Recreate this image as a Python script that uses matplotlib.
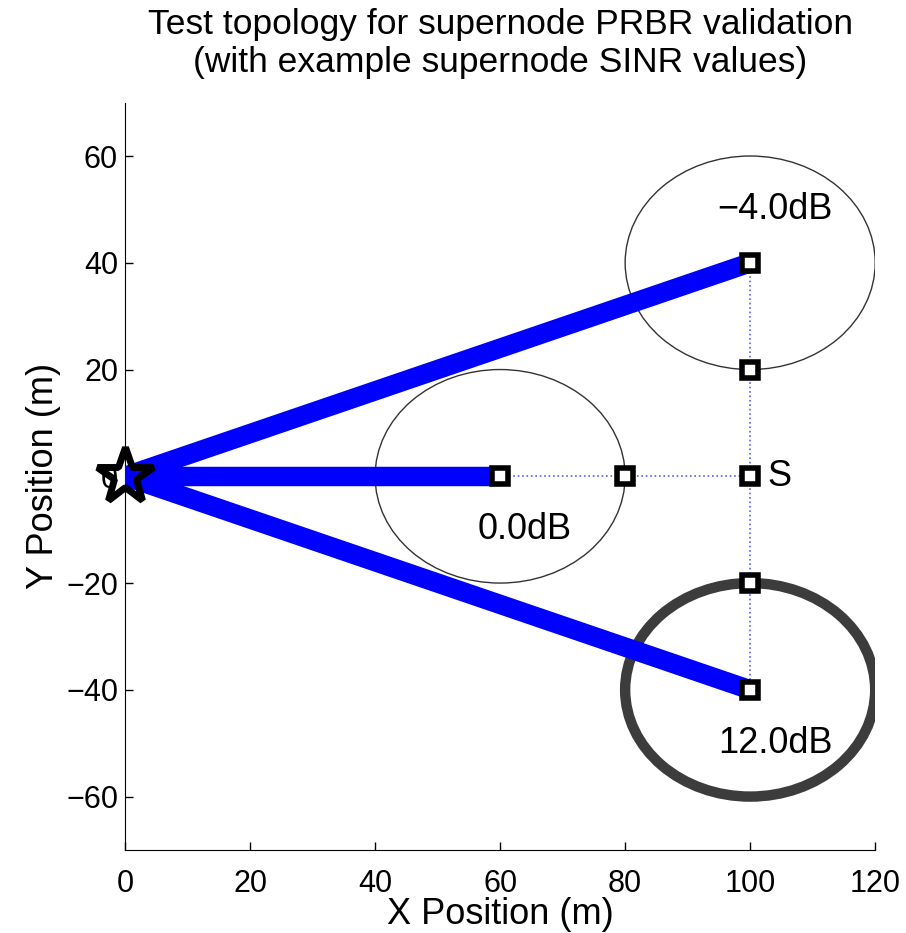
import numpy as np
import matplotlib.pyplot as plt
from matplotlib.patches import Ellipse

plt.rcParams['font.family'] = ['Liberation Sans', 'DejaVu Sans']
plt.rcParams['font.size'] = 22

# node positions (m)
node_x = [60, 80, 100, 100, 100, 100, 100]
node_y = [0, 0, 0, 20, 40, -20, -40]

# base station
bs_x, bs_y = 0, 0

# links from base station to supernodes
link_x = [100, 60, 100]
link_y = [40, 0, -40]

# dotted chains
chain_h_x = [60, 100]
chain_h_y = [0, 0]
chain_v_x = [100, 100]
chain_v_y = [40, -40]

# supernode coverage circles + SINR
circ_x = [100, 60, 100]
circ_y = [40, 0, -40]
circ_r = [20, 20, 20]
sinr_db = [-4.0, 0.0, 12.0]
sinr_off_y = [10, -10, -10]
circ_lw = [1.0, 1.0, 7.5]
circ_col = ['#333333', '#333333', '#3c3c3c']

fig = plt.figure(figsize=(9.06, 9.33), dpi=100)
ax = fig.add_axes([0.138, 0.089, 0.828, 0.801])

for cx, cy, r, lw, c in zip(circ_x, circ_y, circ_r, circ_lw, circ_col):
    e = Ellipse((cx, cy), 2 * r, 2 * r, fill=False, edgecolor=c, lw=lw, zorder=1)
    ax.add_patch(e)

ax.plot(chain_h_x, chain_h_y, ':', color='#5a5aff', lw=1.2, zorder=2)
ax.plot(chain_v_x, chain_v_y, ':', color='#5a5aff', lw=1.2, zorder=2)

for lx, ly in zip(link_x, link_y):
    ax.plot([bs_x, lx], [bs_y, ly], '-', color='blue', lw=14,
            solid_capstyle='butt', zorder=3)

ax.plot(node_x, node_y, 's', ms=11, mfc='white', mec='black', mew=4,
        linestyle='none', zorder=4)

ax.plot(bs_x, bs_y, '*', ms=42, mfc='none', mec='black', mew=5,
        clip_on=False, zorder=5)

for cx, cy, s, oy in zip(circ_x, circ_y, sinr_db, sinr_off_y):
    ax.text(cx + 4, cy + oy, ('%.1fdB' % s).replace('-', '\u2212'),
            ha='center', va='center', fontsize=26, zorder=6)

ax.text(102.8, 0, 'S', ha='left', va='center', fontsize=26)

ax.set_xlim(0, 120)
ax.set_ylim(-70, 70)
ax.set_xticks(np.arange(0, 121, 20))
ax.set_yticks(np.arange(-60, 61, 20))
ax.set_yticklabels([str(v).replace('-', '\u2212') for v in range(-60, 61, 20)])
ax.spines['top'].set_visible(False)
ax.spines['right'].set_visible(False)
ax.tick_params(direction='in', length=6, width=1)
ax.tick_params(axis='x', pad=14)
ax.tick_params(axis='y', pad=5)
ax.set_xlabel('X Position (m)', fontsize=26, labelpad=-2)
ax.set_ylabel('Y Position (m)', fontsize=26, labelpad=4)
ax.set_title('Test topology for supernode PRBR validation\n'
             '(with example supernode SINR values)', fontsize=25.5,
             linespacing=1.2, pad=22)

fig.savefig('out.png', dpi=100)
